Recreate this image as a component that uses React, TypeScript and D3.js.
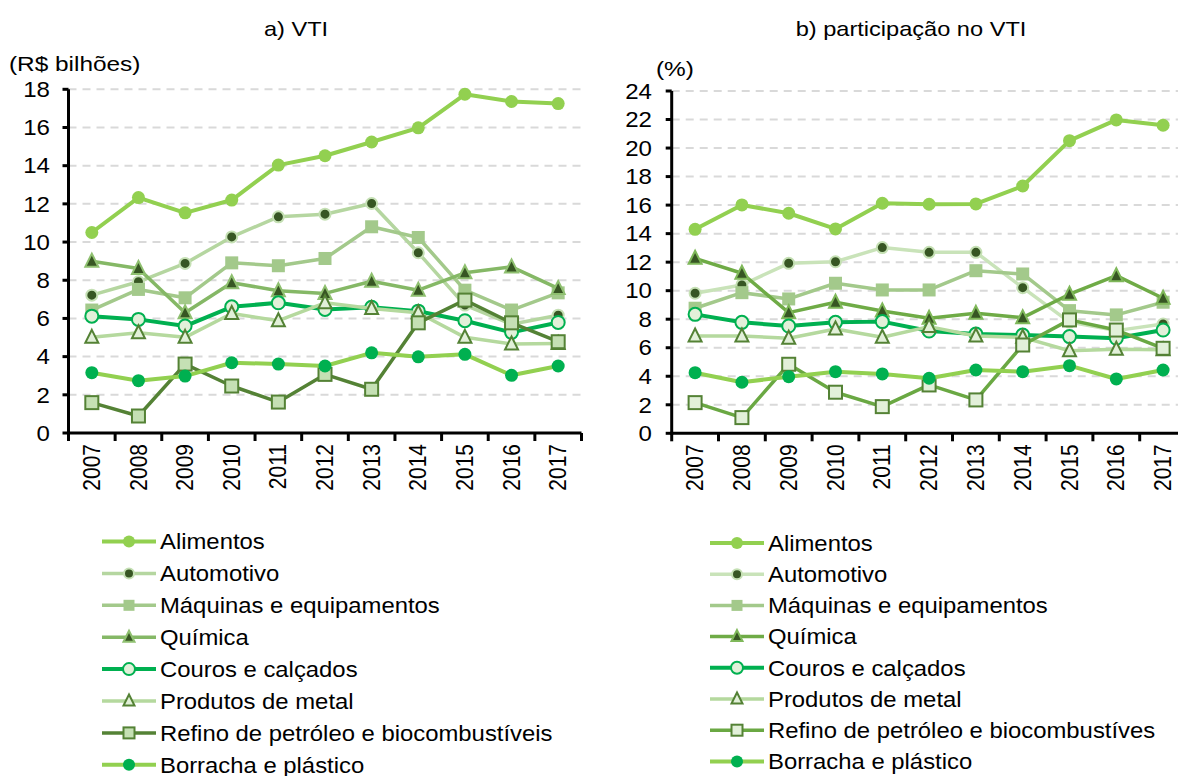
import React from 'react';
import * as d3 from 'd3';

const years = ['2007','2008','2009','2010','2011','2012','2013','2014','2015','2016','2017'];
const seriesNamesA = ['Alimentos','Automotivo','Máquinas e equipamentos','Química','Couros e calçados','Produtos de metal','Refino de petróleo e biocombustíveis','Borracha e plástico'];
const seriesNamesB = ['Alimentos','Automotivo','Máquinas e equipamentos','Química','Couros e calçados','Produtos de metal','Refino de petróleo e biocombustíves','Borracha e plástico'];

// a) VTI (R$ bilhões)
const vtiAlimentos = [10.5, 12.33, 11.53, 12.2, 14.03, 14.52, 15.24, 15.98, 17.74, 17.36, 17.25];
const vtiAutomotivo = [7.22, 7.92, 8.88, 10.27, 11.32, 11.46, 12.02, 9.44, 6.7, 5.7, 6.17];
const vtiMaquinas = [6.44, 7.52, 7.08, 8.91, 8.76, 9.14, 10.8, 10.24, 7.48, 6.44, 7.34];
const vtiQuimica = [9.0, 8.62, 6.3, 7.87, 7.45, 7.31, 7.95, 7.48, 8.39, 8.7, 7.57];
const vtiCouros = [6.12, 5.95, 5.6, 6.61, 6.82, 6.47, 6.58, 6.38, 5.88, 5.27, 5.79];
const vtiMetal = [5.01, 5.25, 5.01, 6.26, 5.88, 6.82, 6.52, 6.3, 5.01, 4.66, 4.69];
const vtiRefino = [1.59, 0.89, 3.61, 2.46, 1.62, 3.07, 2.29, 5.77, 6.96, 5.77, 4.78];
const vtiBorracha = [3.16, 2.74, 2.98, 3.68, 3.61, 3.51, 4.2, 3.99, 4.12, 3.02, 3.51];

// b) participação no VTI (%)
const partAlimentos = [14.3, 16.01, 15.43, 14.33, 16.13, 16.06, 16.08, 17.34, 20.52, 21.97, 21.6];
const partAutomotivo = [9.82, 10.4, 11.92, 12.03, 13.02, 12.69, 12.69, 10.21, 7.8, 7.2, 7.66];
const partMaquinas = [8.77, 9.86, 9.42, 10.52, 10.05, 10.05, 11.4, 11.17, 8.6, 8.3, 9.19];
const partQuimica = [12.27, 11.22, 8.46, 9.19, 8.58, 8.06, 8.41, 8.11, 9.75, 11.05, 9.47];
const partCouros = [8.34, 7.78, 7.52, 7.78, 7.83, 7.17, 6.96, 6.89, 6.78, 6.66, 7.24];
const partMetal = [6.82, 6.82, 6.66, 7.31, 6.73, 7.48, 6.82, 6.73, 5.79, 5.89, 5.85];
const partRefino = [2.15, 1.1, 4.84, 2.88, 1.87, 3.39, 2.34, 6.19, 7.95, 7.24, 5.96];
const partBorracha = [4.25, 3.58, 3.97, 4.32, 4.16, 3.86, 4.44, 4.32, 4.74, 3.81, 4.44];

const ticksA = [0, 2, 4, 6, 8, 10, 12, 14, 16, 18];
const ticksB = [0, 2, 4, 6, 8, 10, 12, 14, 16, 18, 20, 22, 24];

type Style = { line: string; width: number; marker: 'circle' | 'square' | 'triangle'; size: number; fill: string; stroke: string; sw: number };

const stylesA: Style[] = [
  { line: '#92d050', width: 4, marker: 'circle', size: 6.5, fill: '#92d050', stroke: 'none', sw: 0 },
  { line: '#b5d6a0', width: 3.5, marker: 'circle', size: 5.5, fill: '#375623', stroke: '#c5e0b4', sw: 2 },
  { line: '#a3c98b', width: 3.5, marker: 'square', size: 13, fill: '#a3c98b', stroke: 'none', sw: 0 },
  { line: '#85b866', width: 3.5, marker: 'triangle', size: 13, fill: '#375623', stroke: '#8fc070', sw: 2 },
  { line: '#00b050', width: 4, marker: 'circle', size: 6.5, fill: '#e2f0d9', stroke: '#00b050', sw: 2 },
  { line: '#b5d99e', width: 3.5, marker: 'triangle', size: 13, fill: '#e2f0d9', stroke: '#548235', sw: 2 },
  { line: '#548235', width: 3.5, marker: 'square', size: 13, fill: '#c5e0b4', stroke: '#548235', sw: 2 },
  { line: '#92d050', width: 4, marker: 'circle', size: 6.5, fill: '#00b050', stroke: 'none', sw: 0 },
];
const stylesB: Style[] = [
  { line: '#92d050', width: 4, marker: 'circle', size: 6.5, fill: '#92d050', stroke: 'none', sw: 0 },
  { line: '#c9e3b9', width: 3.5, marker: 'circle', size: 5.5, fill: '#375623', stroke: '#c5e0b4', sw: 2 },
  { line: '#a3c98b', width: 3.5, marker: 'square', size: 13, fill: '#a3c98b', stroke: 'none', sw: 0 },
  { line: '#6fab46', width: 3.5, marker: 'triangle', size: 13, fill: '#375623', stroke: '#7fb85a', sw: 2 },
  { line: '#00b050', width: 4, marker: 'circle', size: 6.5, fill: '#e2f0d9', stroke: '#00b050', sw: 2 },
  { line: '#b5d99e', width: 3.5, marker: 'triangle', size: 13, fill: '#e2f0d9', stroke: '#548235', sw: 2 },
  { line: '#6aa843', width: 3.5, marker: 'square', size: 13, fill: '#e2f0d9', stroke: '#548235', sw: 2 },
  { line: '#92d050', width: 4, marker: 'circle', size: 6.5, fill: '#00b050', stroke: 'none', sw: 0 },
];

const FONT = '"Liberation Sans", Arial, Helvetica, sans-serif';

const stretch = (ax: number, k: number) => `translate(${ax},0) scale(${k},1) translate(${-ax},0)`;

function Marker({ s, x, y }: { s: Style; x: number; y: number }) {
  if (s.marker === 'circle') {
    return <circle cx={x} cy={y} r={s.size} fill={s.fill} stroke={s.stroke} strokeWidth={s.sw} />;
  }
  if (s.marker === 'square') {
    const h = s.size / 2;
    return <rect x={x - h} y={y - h} width={s.size} height={s.size} fill={s.fill} stroke={s.stroke} strokeWidth={s.sw} />;
  }
  const h = s.size / 2;
  const pts = `${x},${y - h - 1} ${x + h},${y + h - 1} ${x - h},${y + h - 1}`;
  return <polygon points={pts} fill={s.fill} stroke={s.stroke} strokeWidth={s.sw} strokeLinejoin="miter" />;
}

type PanelProps = {
  title: string; titleX: number; unit: string; unitX: number; unitY: number;
  x0: number; x1: number; yBottom: number; yTop: number; max: number; ticks: number[];
  data: number[][]; styles: Style[]; names: string[];
  legX: number; legY0: number; legStep: number; labelRight: number;
};

function Panel(p: PanelProps) {
  const x = d3.scaleBand<string>().domain(years).range([p.x0, p.x1]).paddingInner(0).paddingOuter(0);
  const y = d3.scaleLinear().domain([0, p.max]).range([p.yBottom, p.yTop]);
  const cx = (yr: string) => (x(yr) as number) + x.bandwidth() / 2;
  const line = d3.line<number>().x((_, i) => cx(years[i])).y((v) => y(v));
  const boundaries = years.map((yr) => x(yr) as number).concat([p.x1]);
  return (
    <g>
      <text x={p.titleX} y={36.5} fontSize={20} textAnchor="middle" fontFamily={FONT} fill="#000"
        transform={stretch(p.titleX, 1.18)}>{p.title}</text>
      <text x={p.unitX} y={p.unitY} fontSize={20.5} fontFamily={FONT} fill="#000"
        transform={stretch(p.unitX, 1.19)}>{p.unit}</text>
      {p.ticks.filter((t) => t > 0).map((t) => (
        <line key={'g' + t} x1={p.x0} x2={p.x1} y1={y(t)} y2={y(t)} stroke="#d9d9d9" strokeWidth={2} strokeDasharray="8,6" />
      ))}
      {p.ticks.map((t) => (
        <g key={'t' + t}>
          <line x1={p.x0 - 6} x2={p.x0} y1={y(t)} y2={y(t)} stroke="#000" strokeWidth={3} />
          <text x={p.labelRight} y={y(t)} dy="0.36em" fontSize={21.5} textAnchor="end" fontFamily={FONT} fill="#000"
            transform={stretch(p.labelRight, 1.12)}>{t}</text>
        </g>
      ))}
      {boundaries.map((b, i) => (
        <line key={'xt' + i} x1={b} x2={b} y1={p.yBottom} y2={p.yBottom + 8} stroke="#000" strokeWidth={3} />
      ))}
      {years.map((yr) => (
        <text key={'xl' + yr} transform={`translate(${cx(yr)},${p.yBottom + 11}) scale(1.1,1) rotate(-90)`} dy="0.35em" fontSize={21}
          textAnchor="end" fontFamily={FONT} fill="#000">{yr}</text>
      ))}
      <line x1={p.x0} x2={p.x0} y1={p.yTop} y2={p.yBottom + 1.5} stroke="#000" strokeWidth={3} />
      <line x1={p.x0 - 1.5} x2={p.x1} y1={p.yBottom} y2={p.yBottom} stroke="#000" strokeWidth={3} />
      {p.data.map((vals, si) => {
        const s = p.styles[si];
        return (
          <g key={'s' + si}>
            <path d={line(vals) || ''} fill="none" stroke={s.line} strokeWidth={s.width} strokeLinejoin="round" />
            {vals.map((v, i) => <Marker key={i} s={s} x={cx(years[i])} y={y(v)} />)}
          </g>
        );
      })}
      {p.names.map((n, i) => {
        const s = p.styles[i];
        const ly = p.legY0 + i * p.legStep;
        const tx = p.legX + 58;
        return (
          <g key={'l' + i}>
            <line x1={p.legX} x2={p.legX + 54} y1={ly} y2={ly} stroke={s.line} strokeWidth={s.width} />
            <Marker s={{ ...s, size: s.marker === 'circle' ? s.size - 0.5 : s.size - 2 }} x={p.legX + 27} y={ly} />
            <text x={tx} y={ly} dy="0.36em" fontSize={21.5} fontFamily={FONT} fill="#000"
              transform={stretch(tx, 1.11)}>{n}</text>
          </g>
        );
      })}
    </g>
  );
}

export default function App() {
  const dataA = [vtiAlimentos, vtiAutomotivo, vtiMaquinas, vtiQuimica, vtiCouros, vtiMetal, vtiRefino, vtiBorracha];
  const dataB = [partAlimentos, partAutomotivo, partMaquinas, partQuimica, partCouros, partMetal, partRefino, partBorracha];
  return (
    <svg width={1178} height={776} style={{ position: 'absolute', left: 0, top: 0, background: '#fff' }}>
      <rect x={0} y={0} width={1178} height={776} fill="#fff" />
      <Panel title="a) VTI" titleX={296} unit="(R$ bilhões)" unitX={9} unitY={71} x0={68.5} x1={581.5} yBottom={433} yTop={89.3}
        max={18} ticks={ticksA} data={dataA} styles={stylesA} names={seriesNamesA}
        legX={102} legY0={541.5} legStep={31.9} labelRight={50} />
      <Panel title="b) participação no VTI" titleX={911} unit="(%)" unitX={656} unitY={76} x0={671.7} x1={1186.5} yBottom={433.3} yTop={91}
        max={24} ticks={ticksB} data={dataB} styles={stylesB} names={seriesNamesB}
        legX={710} legY0={543} legStep={31.2} labelRight={652} />
    </svg>
  );
}
